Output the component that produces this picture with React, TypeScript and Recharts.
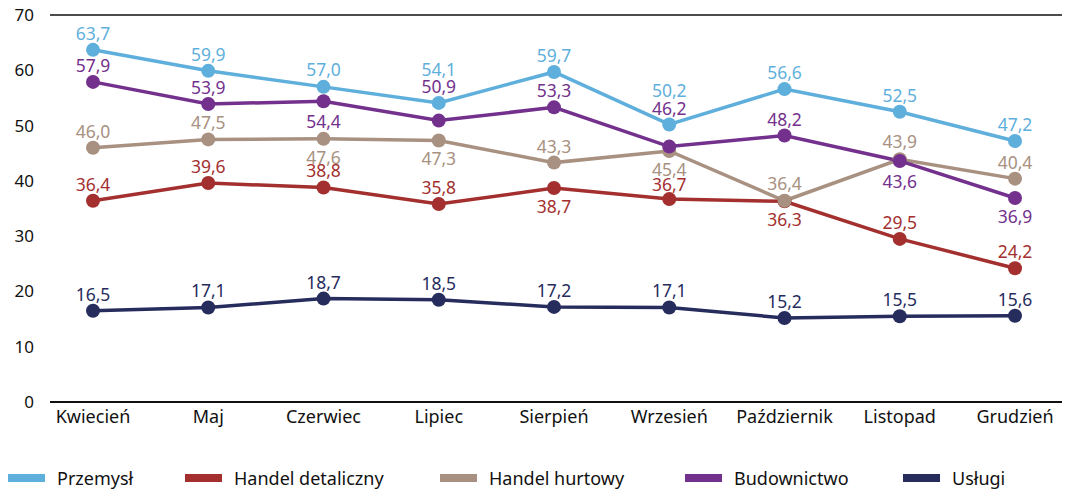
import { LineChart, Line, XAxis, YAxis, ReferenceLine, Legend, LabelList } from "recharts";

const months = ["Kwiecień", "Maj", "Czerwiec", "Lipiec", "Sierpień", "Wrzesień", "Październik", "Listopad", "Grudzień"];

const przemysl = [63.7, 59.9, 57.0, 54.1, 59.7, 50.2, 56.6, 52.5, 47.2];
const detaliczny = [36.4, 39.6, 38.8, 35.8, 38.7, 36.7, 36.3, 29.5, 24.2];
const hurtowy = [46.0, 47.5, 47.6, 47.3, 43.3, 45.4, 36.4, 43.9, 40.4];
const budownictwo = [57.9, 53.9, 54.4, 50.9, 53.3, 46.2, 48.2, 43.6, 36.9];
const uslugi = [16.5, 17.1, 18.7, 18.5, 17.2, 17.1, 15.2, 15.5, 15.6];

const yTicks = [0, 10, 20, 30, 40, 50, 60, 70];

// vertical offset of each value label from its dot (negative = above)
const series = [
  { key: "przemysl", name: "Przemysł", color: "#5fafdc", values: przemysl, dy: [-17, -17, -18, -34, -17, -34, -17, -17, -17] },
  { key: "detaliczny", name: "Handel detaliczny", color: "#a3302e", values: detaliczny, dy: [-17, -17, -17, -17, 18, -15, 18, -17, -17] },
  { key: "hurtowy", name: "Handel hurtowy", color: "#a89181", values: hurtowy, dy: [-17, -17, 18, 18, -17, 18, -18, -18, -17] },
  { key: "budownictwo", name: "Budownictwo", color: "#73318d", values: budownictwo, dy: [-17, -17, 20, -35, -17, -39, -17, 20, 18] },
  { key: "uslugi", name: "Usługi", color: "#262c5c", values: uslugi, dy: [-17, -17, -17, -17, -17, -17, -17, -17, -17] },
];

const data = months.map((m, i) => {
  const row: any = { month: m };
  series.forEach((s) => (row[s.key] = s.values[i]));
  return row;
});

const FONT = "'Noto Sans', sans-serif";

const makeLabel = (color: string, dy: number[]) => (props: any) => {
  const { x, y, value, index } = props;
  return (
    <text
      x={x}
      y={y + (dy[index] ?? -17)}
      textAnchor="middle"
      dominantBaseline="central"
      fill={color}
      fontSize={17.5}
      fontFamily={FONT}
    >
      {Number(value).toFixed(1).replace(".", ",")}
    </text>
  );
};

const legendLefts = [8, 185, 440, 685, 903];

const LegendBox = () => (
  <div style={{ position: "relative", height: 59, width: 1067 }}>
    {series.map((s, i) => (
      <div
        key={s.key}
        style={{
          position: "absolute",
          left: legendLefts[i],
          top: 36,
          display: "flex",
          alignItems: "center",
          fontFamily: FONT,
          fontSize: 18,
          color: "#111",
          whiteSpace: "nowrap",
        }}
      >
        <span style={{ display: "inline-block", width: 37, height: 8, background: s.color, marginRight: 12 }} />
        {s.name}
      </div>
    ))}
  </div>
);

export default function App() {
  return (
    <div style={{ position: "absolute", left: 0, top: 0 }}>
      <LineChart width={1067} height={489} data={data} margin={{ top: 15, right: 5, left: 0, bottom: 0 }}>
        <XAxis
          dataKey="month"
          axisLine={{ stroke: "#111", strokeWidth: 2 }}
          tickLine={false}
          height={28}
          padding={{ left: 43, right: 47 }}
          tick={{ fill: "#111", fontSize: 18, fontFamily: FONT }}
          interval={0}
        />
        <YAxis
          domain={[0, 70]}
          ticks={yTicks}
          width={50}
          axisLine={false}
          tickLine={false}
          tick={{ fill: "#111", fontSize: 17, fontFamily: FONT }}
          tickMargin={10}
        />
        <ReferenceLine y={70} stroke="#111" strokeWidth={1.5} />
        <Legend verticalAlign="bottom" content={() => <LegendBox />} wrapperStyle={{ left: 0, bottom: 0 }} />
        {series.map((s) => (
          <Line
            key={s.key}
            dataKey={s.key}
            name={s.name}
            stroke={s.color}
            strokeWidth={3.5}
            dot={{ r: 7, fill: s.color, stroke: s.color, strokeWidth: 0 }}
            activeDot={false}
            isAnimationActive={false}
          >
            <LabelList dataKey={s.key} content={makeLabel(s.color, s.dy)} />
          </Line>
        ))}
      </LineChart>
    </div>
  );
}
